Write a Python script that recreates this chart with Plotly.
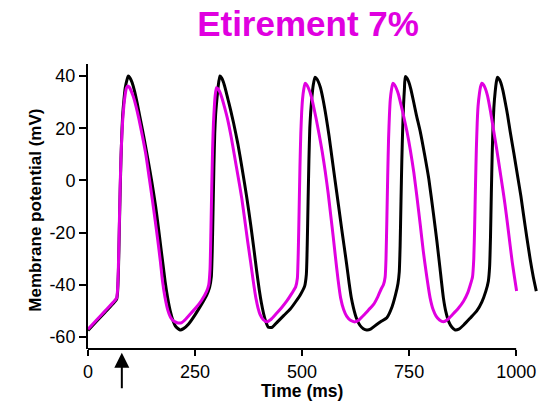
import plotly.graph_objects as go

# ---- data ----
time_black = [0, 20, 40, 60, 67, 69, 71, 73, 75, 77, 79, 81, 84, 87, 91, 94,
              98, 103, 109, 115, 121, 130, 140, 149, 158, 164, 170, 175, 180, 186, 192, 198, 205, 215,
              223, 235, 250, 265, 277, 284, 288, 290, 292, 294, 296, 298, 301, 304, 308,
              312, 316, 321, 327, 333, 340, 350, 360, 371, 380, 388, 394, 400, 405, 410, 415, 421,
              430, 442, 457, 472, 485, 497, 506, 510, 512, 514, 516, 518, 520, 523, 526, 530,
              534, 538, 543, 549, 556, 563, 570, 577, 585, 592, 598, 604, 610, 615, 620, 627, 635, 643, 651,
              660, 672, 685, 698, 710, 718, 724, 727, 729, 731, 733, 735, 737, 739, 741,
              745, 749, 754, 760, 767, 776, 786, 796, 807, 815, 822, 830, 836, 843, 850, 857.5,
              866, 878, 893, 908, 920, 929, 935, 938, 940, 942, 944, 946, 948, 951, 953.5, 956,
              960, 964, 969, 975, 980, 986, 995, 1004, 1011, 1017, 1025, 1033, 1040, 1047]
volt_black = [-57.5, -54, -50.5, -47, -45.5, -43, -35, -20, -5, 8, 18, 25, 31, 35.5, 38.5, 40,
              39.3, 37.5, 34, 29.5, 24.5, 17, 8, -0.5, -10, -17.5, -25.5, -32, -38.6, -45, -50, -53.5, -56, -57.3,
              -56.8, -55, -51.5, -47.5, -44, -41, -37, -28, -12, 5, 18, 25, 31, 36, 40,
              39.3, 37.8, 35, 31, 27, 22, 14, 4.5, -6.7, -17, -27, -34.8, -42, -47, -51, -54, -56.3,
              -56.3, -54.3, -51.8, -49.4, -46.5, -43.5, -40.5, -36, -25, -8, 8, 20, 26, 32, 36.5, 39.5,
              39, 37.8, 35.5, 31, 24.5, 17, 8.5, 0, -9.5, -18, -25, -32, -39.5, -45, -48.8, -52.8, -55.5, -56.8, -57.3,
              -57, -55.5, -54, -52.6, -48.5, -44, -39.5, -35, -25, -8, 8, 20, 29, 35, 39.8,
              39.2, 37.8, 35, 30.5, 25, 18.7, 10, 0.5, -13, -23.5, -33.5, -45, -50.5, -54.3, -56.3, -57.3,
              -57, -55.3, -52.7, -50, -46.5, -42.5, -38.6, -33, -22, -5, 10, 21, 28, 34, 37.5, 39.5,
              38.9, 37.5, 34.5, 29.5, 25, 18.7, 10, 1, -6, -13, -22, -30.5, -37, -42.4]

time_magenta = [0, 20, 40, 60, 67, 69, 71, 73, 75, 77, 79, 81, 84, 87, 90, 93,
                97, 101, 106, 112, 119, 127, 135, 143, 150, 157, 163, 169, 174, 180, 186, 193, 201, 210, 219,
                228, 240, 252, 265, 277, 282, 285, 287, 289, 291, 293, 295, 297, 300,
                304, 308, 313, 319, 326, 334, 342, 350, 359, 366, 373, 380, 386, 392, 397, 402, 409, 417.5,
                427, 440, 452, 464, 476, 485, 489, 491, 493, 495, 497, 499, 501, 504, 507,
                511, 515, 520, 526, 533, 540, 547, 554, 561, 567, 573, 578, 584, 590, 597, 604, 613, 624,
                634, 645, 656, 667, 677, 685, 690, 694, 696, 698, 700, 702, 704, 706, 709, 712,
                716, 720, 725, 731, 738, 745, 753, 761, 768, 776, 783, 790, 799, 806, 813, 821, 830,
                840, 852, 865, 877, 887, 893, 898, 901, 903, 905, 907, 909, 911, 914, 917, 920,
                924, 928, 933, 940, 947, 954, 961, 968, 974, 980, 986, 991, 996, 1001]
volt_magenta = [-57, -53.5, -50, -46.5, -45, -42, -33, -18, -3, 9, 17, 23, 29, 33, 35.5, 36.2,
                35.6, 34.2, 32, 28.5, 23.5, 17, 10, 1, -7, -15.5, -23, -31, -38.6, -45, -49.5, -52.5, -54, -54.6, -54.5,
                -53.2, -51, -48.8, -46, -42.5, -40, -34, -20, -3, 12, 22, 28, 32.5, 35.5,
                35, 33.8, 31.5, 28, 23.5, 17, 9.5, 2, -6.7, -15, -23.5, -31.5, -38.6, -45, -48.8, -51.4, -53.3, -54.2,
                -53.3, -51, -48.8, -46.3, -43.3, -40.8, -37.5, -28, -12, 5, 18, 26, 31, 35, 37.2,
                36.6, 35.3, 33, 29, 23.5, 17.5, 11, 3.5, -5, -13.5, -22, -29.5, -38, -45, -49.5, -52, -53.6, -54.2,
                -53.3, -51.5, -49.5, -47.5, -44.5, -41.5, -40, -37, -30, -15, 2, 16, 25, 31, 35, 37.2,
                36.6, 35.3, 33, 29, 24, 18.7, 11.5, 3, -6, -17, -27, -35.5, -45, -49.5, -52, -53.5, -54.2,
                -53.3, -51.3, -49, -46.3, -43, -40, -37, -30, -18, -2, 12, 22, 28.5, 33, 36, 37.2,
                36.6, 35.2, 32.5, 26.5, 19.5, 12.5, 5, -2.5, -9.3, -17, -25, -31.5, -37, -42.4]

x_tick_vals = [0, 250, 500, 750, 1000]
x_tick_text = ["0", "250", "500", "750", "1000"]
y_tick_vals = [-60, -40, -20, 0, 20, 40]
y_tick_text = ["-60", "-40", "-20", "0", "20", "40"]
stim_time = 79

title_text = "Etirement 7%"
x_title = "Time (ms)"
y_title = "Membrane potential (mV)"

BLACK = "#000000"
MAGENTA = "#E000E0"
FONT = "Liberation Sans, Arial, sans-serif"

fig = go.Figure()
fig.add_trace(go.Scatter(x=time_black, y=volt_black, mode="lines",
                         line=dict(color=BLACK, width=3, shape="spline", smoothing=0.5),
                         showlegend=False, hoverinfo="skip"))
fig.add_trace(go.Scatter(x=time_magenta, y=volt_magenta, mode="lines",
                         line=dict(color=MAGENTA, width=3, shape="spline", smoothing=0.5),
                         showlegend=False, hoverinfo="skip"))

# x axis line only spans 0..1000
fig.add_shape(type="line", xref="x", yref="paper", x0=x_tick_vals[0], x1=x_tick_vals[-1],
              y0=0, y1=0, line=dict(color=BLACK, width=2))

fig.update_layout(
    width=548, height=407,
    margin=dict(l=88, r=7, t=64, b=58, autoexpand=False),
    paper_bgcolor="white", plot_bgcolor="white",
    font=dict(family=FONT, color=BLACK, size=18),
    title=dict(text=f"<b>{title_text}</b>", x=308 / 548, xanchor="center",
               y=1 - 24 / 407, yanchor="middle",
               font=dict(family=FONT, size=35, color=MAGENTA)),
    xaxis=dict(range=[0, 1058], tickvals=x_tick_vals, ticktext=x_tick_text,
               ticks="outside", ticklen=6,
               tickwidth=2, tickcolor=BLACK, showline=False, showgrid=False,
               zeroline=False, automargin=False, tickfont=dict(size=18)),
    yaxis=dict(range=[-64.6, 44.6], tickvals=y_tick_vals, ticktext=y_tick_text,
               ticks="outside", ticklen=7,
               tickwidth=2, tickcolor=BLACK, showline=True, linewidth=2, linecolor=BLACK,
               showgrid=False, zeroline=False, automargin=False, tickfont=dict(size=18)),
    annotations=[
        dict(text=f"<b>{x_title}</b>", xref="x", yref="paper", x=500, y=-0.146,
             xanchor="center", yanchor="middle", showarrow=False,
             font=dict(family=FONT, size=17.5, color=BLACK)),
        dict(text=f"<b>{y_title}</b>", xref="paper", yref="paper", x=-0.1148, y=0.489,
             xanchor="center", yanchor="middle", textangle=-90, showarrow=False,
             font=dict(family=FONT, size=17, color=BLACK)),
        dict(text="", xref="x", yref="paper", x=stim_time, y=-0.013, ax=0, ay=37,
             showarrow=True, arrowhead=2, arrowsize=1.5, arrowwidth=2, arrowcolor=BLACK),
    ],
)

fig.write_html("out.html", config={"displayModeBar": False},
               post_script="document.body.style.margin='0';document.body.style.overflow='hidden';")
